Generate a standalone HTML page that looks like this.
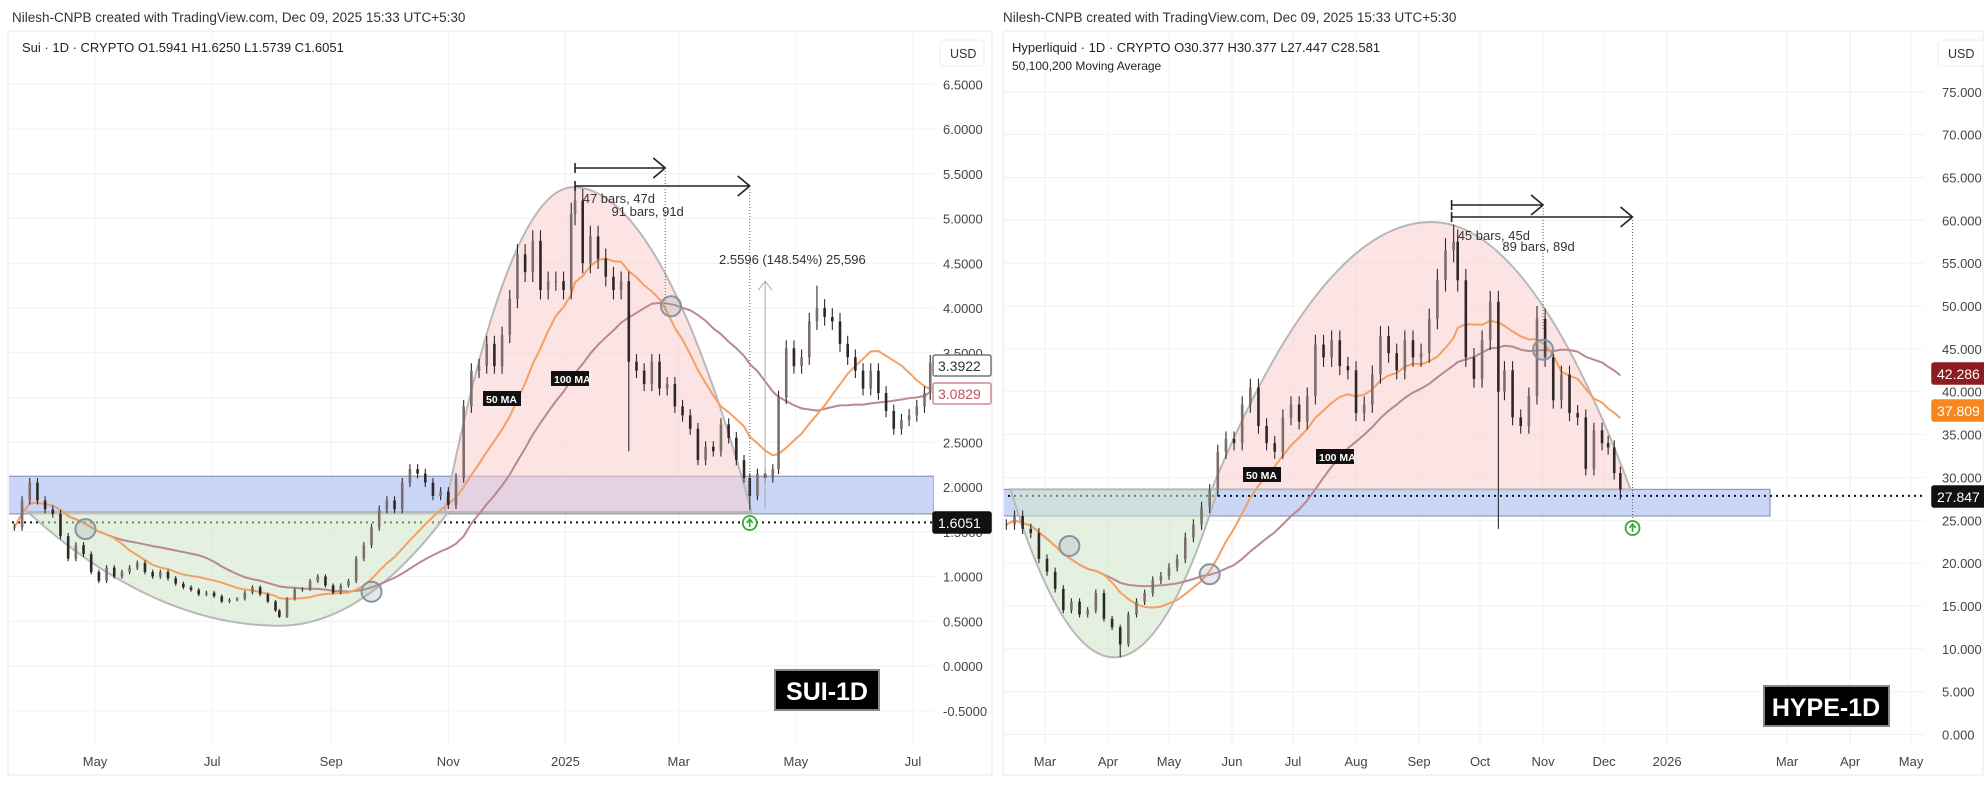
<!DOCTYPE html>
<html><head><meta charset="utf-8">
<style>
html,body{margin:0;padding:0;background:#fff;}
svg{display:block;font-family:"Liberation Sans",sans-serif;}
</style></head>
<body>
<svg id="chart" width="1984" height="800" viewBox="0 0 1984 800" xmlns="http://www.w3.org/2000/svg">
<rect x="0" y="0" width="1984" height="800" fill="#ffffff"/>
<text x="12" y="22" font-size="13.5" fill="#333">Nilesh-CNPB created with TradingView.com, Dec 09, 2025 15:33 UTC+5:30</text>
<text x="1003" y="22" font-size="13.5" fill="#333">Nilesh-CNPB created with TradingView.com, Dec 09, 2025 15:33 UTC+5:30</text>
<rect x="8" y="31" width="984" height="744" fill="none" stroke="#e8e8e8"/>
<rect x="1003" y="31" width="980" height="744" fill="none" stroke="#e8e8e8"/>
<defs>
<clipPath id="clipL"><rect x="9" y="32" width="925" height="714"/></clipPath>
<clipPath id="clipR"><rect x="1004" y="32" width="920" height="714"/></clipPath>
</defs>
<g id="gridL"></g>
<g id="gridR"></g>
<g id="plotL" clip-path="url(#clipL)"></g>
<g id="plotR" clip-path="url(#clipR)"></g>
<g id="axes"></g>
<text x="22" y="52" font-size="13" fill="#222">Sui · 1D · CRYPTO  O1.5941  H1.6250  L1.5739  C1.6051</text>
<text x="1012" y="52" font-size="13" fill="#222">Hyperliquid · 1D · CRYPTO  O30.377  H30.377  L27.447  C28.581</text>
<text x="1012" y="70" font-size="12" fill="#222">50,100,200 Moving Average</text>
<rect x="940" y="40" width="44" height="26" rx="4" fill="#fff" stroke="#eee"/>
<text x="950" y="58" font-size="12.5" fill="#333">USD</text>
<rect x="1938" y="40" width="46" height="26" rx="4" fill="#fff" stroke="#eee"/>
<text x="1948" y="58" font-size="12.5" fill="#333">USD</text>
</svg>
<script>
const suiDates=["2024-03-20","2024-03-24","2024-03-28","2024-04-01","2024-04-05","2024-04-09","2024-04-13","2024-04-17","2024-04-21","2024-04-25","2024-04-29","2024-05-03","2024-05-07","2024-05-11","2024-05-15","2024-05-19","2024-05-23","2024-05-27","2024-05-31","2024-06-04","2024-06-08","2024-06-12","2024-06-16","2024-06-20","2024-06-24","2024-06-28","2024-07-02","2024-07-06","2024-07-10","2024-07-14","2024-07-18","2024-07-22","2024-07-26","2024-07-30","2024-08-03","2024-08-05","2024-08-09","2024-08-13","2024-08-17","2024-08-21","2024-08-25","2024-08-29","2024-09-02","2024-09-06","2024-09-10","2024-09-14","2024-09-18","2024-09-22","2024-09-26","2024-09-30","2024-10-04","2024-10-08","2024-10-12","2024-10-16","2024-10-20","2024-10-24","2024-10-28","2024-11-01","2024-11-05","2024-11-09","2024-11-13","2024-11-17","2024-11-21","2024-11-25","2024-11-29","2024-12-03","2024-12-07","2024-12-11","2024-12-15","2024-12-19","2024-12-23","2024-12-27","2024-12-31","2025-01-04","2025-01-06","2025-01-10","2025-01-14","2025-01-18","2025-01-22","2025-01-26","2025-01-30","2025-02-03","2025-02-07","2025-02-11","2025-02-15","2025-02-19","2025-02-23","2025-02-27","2025-03-03","2025-03-07","2025-03-11","2025-03-15","2025-03-19","2025-03-23","2025-03-27","2025-03-31","2025-04-04","2025-04-07","2025-04-11","2025-04-15","2025-04-19","2025-04-22","2025-04-26","2025-04-30","2025-05-04","2025-05-08","2025-05-12","2025-05-16","2025-05-20","2025-05-24","2025-05-28","2025-06-01","2025-06-05","2025-06-09","2025-06-13","2025-06-17","2025-06-21","2025-06-25","2025-06-29","2025-07-03","2025-07-07","2025-07-10"];
const suiClose=[1.55,1.85,2.05,1.85,1.75,1.70,1.45,1.20,1.35,1.25,1.05,0.95,1.10,1.00,1.05,1.10,1.15,1.05,1.00,1.05,0.98,0.92,0.88,0.85,0.80,0.82,0.78,0.72,0.74,0.75,0.82,0.88,0.80,0.72,0.62,0.55,0.75,0.85,0.86,0.95,1.00,0.90,0.82,0.90,0.95,1.20,1.35,1.55,1.75,1.85,1.75,2.05,2.20,2.15,2.05,1.90,1.95,1.80,2.10,2.90,3.30,3.35,3.60,3.35,3.70,4.10,4.60,4.40,4.75,4.20,4.30,4.30,4.20,5.05,5.20,4.50,4.80,4.55,4.35,4.20,4.30,3.40,3.30,3.15,3.40,3.10,3.15,2.90,2.80,2.65,2.30,2.45,2.40,2.70,2.55,2.30,2.10,1.90,2.15,2.10,2.20,3.00,3.55,3.35,3.45,3.85,4.00,3.90,3.85,3.60,3.45,3.30,3.10,3.30,3.05,2.85,2.65,2.75,2.80,2.90,3.05,3.39];
const suiWickDates=["2025-01-06","2025-02-03","2025-04-07","2025-05-12"];
const suiWickValues=[5.35,2.40,1.75,4.25];
const suiTicks=[-0.5,0,0.5,1,1.5,2,2.5,3,3.5,4,4.5,5,5.5,6,6.5];
const suiMonths=["2024-05-01","2024-07-01","2024-09-01","2024-11-01","2025-01-01","2025-03-01","2025-05-01","2025-07-01"];
const suiMonthLabels=["May","Jul","Sep","Nov","2025","Mar","May","Jul"];

const hypeDates=["2025-02-10","2025-02-14","2025-02-18","2025-02-22","2025-02-26","2025-03-02","2025-03-06","2025-03-10","2025-03-14","2025-03-18","2025-03-22","2025-03-26","2025-03-30","2025-04-03","2025-04-07","2025-04-11","2025-04-15","2025-04-19","2025-04-23","2025-04-27","2025-05-01","2025-05-05","2025-05-09","2025-05-13","2025-05-17","2025-05-21","2025-05-25","2025-05-29","2025-06-02","2025-06-06","2025-06-10","2025-06-14","2025-06-18","2025-06-22","2025-06-26","2025-06-30","2025-07-04","2025-07-08","2025-07-12","2025-07-16","2025-07-20","2025-07-24","2025-07-28","2025-08-01","2025-08-05","2025-08-09","2025-08-13","2025-08-17","2025-08-21","2025-08-25","2025-08-29","2025-09-02","2025-09-06","2025-09-10","2025-09-14","2025-09-18","2025-09-20","2025-09-24","2025-09-28","2025-10-02","2025-10-06","2025-10-10","2025-10-13","2025-10-17","2025-10-21","2025-10-25","2025-10-29","2025-11-02","2025-11-06","2025-11-10","2025-11-14","2025-11-18","2025-11-22","2025-11-26","2025-11-30","2025-12-03","2025-12-06","2025-12-09"];
const hypeClose=[24.5,25.5,24.0,23.5,20.5,19.0,17.0,14.5,15.5,14.0,14.5,16.5,13.5,12.5,10.5,14.0,15.5,16.5,18.0,18.5,19.5,20.5,23.0,24.5,26.5,28.5,33.0,34.5,34.0,38.5,40.5,36.0,34.0,33.0,37.0,38.5,36.5,39.5,45.5,44.0,46.0,43.0,42.5,37.5,38.5,42.0,46.5,44.5,42.5,46.0,44.0,44.5,48.5,53.0,56.5,57.5,53.0,44.0,41.5,46.0,50.5,40.0,42.5,37.0,36.0,39.5,48.5,44.0,39.0,42.0,37.5,37.0,31.0,35.5,34.0,33.5,30.5,28.58];
const hypeWickDates=["2025-04-07","2025-09-18","2025-10-10","2025-10-29","2025-12-09"];
const hypeWickValues=[9.0,59.5,24.0,50.0,27.4];
const hypeTicks=[0,5,10,15,20,25,30,35,40,45,50,55,60,65,70,75];
const hypeMonths=["2025-03-01","2025-04-01","2025-05-01","2025-06-01","2025-07-01","2025-08-01","2025-09-01","2025-10-01","2025-11-01","2025-12-01","2026-01-01","2026-03-01","2026-04-01","2026-05-01"];
const hypeMonthLabels=["Mar","Apr","May","Jun","Jul","Aug","Sep","Oct","Nov","Dec","2026","Mar","Apr","May"];

const NS="http://www.w3.org/2000/svg";
const DAY=86400000;
function dnum(s){return Date.parse(s+"T00:00:00Z")/DAY;}
const L0=dnum("2024-03-20"), R0=dnum("2025-03-01");
function xL(s){return 14.4+(dnum(s)-L0)*1.92;}
function yL(p){return 666-p*89.5;}
function xR(s){return 1045+(dnum(s)-R0)*2.033;}
function yR(p){return 734.5-p*8.57;}
function mk(parent,tag,attrs){const e=document.createElementNS(NS,tag);for(const k in attrs)e.setAttribute(k,attrs[k]);parent.appendChild(e);return e;}

function sma(dates,close,n){
  const out=[];
  for(let i=0;i<dates.length;i++){
    const d=dnum(dates[i]);let s=0,c=0;
    for(let j=i;j>=0&&dnum(dates[j])>d-n;j--){s+=close[j];c++;}
    out.push(s/c);
  }
  return out;
}

const axes=document.getElementById('axes');
function grid(g,ticks,yf,months,xf,x0,x1){
  ticks.forEach(t=>{const l=mk(g,'line',{x1:x0,x2:x1,y1:yf(t),y2:yf(t),stroke:'#f1f1f1'});
    
    });
  months.forEach(m=>{const l=mk(g,'line',{x1:xf(m),x2:xf(m),y1:32,y2:746,stroke:'#f1f1f1'});
    
    });
}
grid(document.getElementById('gridL'),suiTicks,yL,suiMonths,xL,9,934);
grid(document.getElementById('gridR'),hypeTicks,yR,hypeMonths,xR,1004,1924);

function axisLabels(ticks,yf,fmt,x,months,xf,mlabels){
  ticks.forEach(t=>{const tx=mk(axes,'text',{x:x,y:yf(t)+5,'font-size':13,fill:'#444'});tx.textContent=fmt(t);
    
    });
  months.forEach((m,i)=>{const tx=mk(axes,'text',{x:xf(m),y:766,'font-size':13,fill:'#444','text-anchor':'middle'});tx.textContent=mlabels[i];
    
    });
}
axisLabels(suiTicks,yL,t=>t.toFixed(4),943,suiMonths,xL,suiMonthLabels);
axisLabels(hypeTicks,yR,t=>t.toFixed(3),1942,hypeMonths,xR,hypeMonthLabels);

function arch(g,pts,fill,name){
  const [a,b,c]=pts;
  let d=`M${a[0]},${a[1]}`;
  for(let i=1;i<=60;i++){const t=i/60;
    const x=a[0]+(c[0]-a[0])*t;
    const L=(x-b[0]);const k=( (a[1]-b[1])/Math.pow(a[0]-b[0],2)*(x<b[0]?1:0) + (c[1]-b[1])/Math.pow(c[0]-b[0],2)*(x>=b[0]?1:0));
    d+=` L${x},${b[1]+k*L*L}`;}
  const p=mk(g,'path',{d:d+' Z',fill:fill,stroke:'#b8b8b8','stroke-width':2});
  
  
}

function drawPanel(g,band,lastPrice,yf,x1){
  const br=mk(g,'rect',{x:0,y:yf(band[0]),width:x1,height:yf(band[1])-yf(band[0]),fill:'#c9d6f8',stroke:'#8e98b0','stroke-width':1.2});
  
  
  const dl=mk(g,'line',{x1:0,x2:1984,y1:yf(lastPrice),y2:yf(lastPrice),stroke:'#111','stroke-width':2,'stroke-dasharray':'2 4'});
  
  
}

function drawBars(g,dates,close,wd,wv,xf,yf){
  for(let i=0;i<dates.length;i++){
    const o=i?close[i-1]:close[i],c=close[i];
    let hi=Math.max(o,c)*1.025,lo=Math.min(o,c)*0.975;
    const wi=wd.indexOf(dates[i]);
    if(wi>=0){if(wv[wi]>hi)hi=wv[wi];if(wv[wi]<lo)lo=wv[wi];}
    const x=xf(dates[i]);
    const w=mk(g,'line',{x1:x,x2:x,y1:yf(hi),y2:yf(lo),stroke:'#2e2828','stroke-width':1.1});
    
    
    const top=yf(Math.max(o,c)),h=Math.max(1,yf(Math.min(o,c))-top);
    const r=mk(g,'rect',{x:x-1.3,y:top,width:2.6,height:h,fill:c>=o?'#7d6e6e':'#2e2828'});
    
    
  }
}
function drawMA(g,dates,vals,xf,yf,color,name){
  const p=mk(g,'path',{d:dates.map((d,i)=>(i?'L':'M')+xf(d)+','+yf(vals[i])).join(' '),fill:'none',stroke:color,'stroke-width':2});
  
  
}
function ring(g,x,y,color,name){
  const c=mk(g,'circle',{cx:x,cy:y,r:10,fill:'rgba(150,160,175,0.25)',stroke:color,'stroke-width':2});
  
  
}
function upMark(g,x,y){
  const c=mk(g,'circle',{cx:x,cy:y,r:7,fill:'#fff',stroke:'#3a3','stroke-width':1.8});
  
  
  mk(g,'path',{d:`M${x},${y+4} L${x},${y-3} M${x-3},${y} L${x},${y-4} L${x+3},${y}`,stroke:'#3a3','stroke-width':1.6,fill:'none'});
}
function arrow(g,x0,x1,y,name){
  const p=mk(g,'path',{d:`M${x0},${y-5} L${x0},${y+5} M${x0},${y} L${x1},${y} M${x1-12},${y-10} L${x1},${y} L${x1-12},${y+10}`,stroke:'#222','stroke-width':1.6,fill:'none'});
  
  
}
function vdot(g,x,y0,y1){mk(g,'line',{x1:x,x2:x,y1:y0,y2:y1,stroke:'#666','stroke-width':1,'stroke-dasharray':'1 2'});}
function txt(g,x,y,s,size,fill,name,extra){
  const t=mk(g,'text',Object.assign({x:x,y:y,'font-size':size,fill:fill},extra||{}));t.textContent=s;
  
  
  return t;
}
function tagLabel(g,x,y,s,bg,fg,name){
  const r=mk(g,'rect',{x:x,y:y-6,width:38,height:15,fill:bg});
  
  
  txt(g,x+3,y+6,s,10.5,fg,name+'-text',{'font-weight':'bold'});
}
function priceTag(x,y,s,bg,fg,stroke,name){
  const r=mk(axes,'rect',{x:x,y:y-10,width:58,height:21,rx:2,fill:bg,stroke:stroke,'stroke-width':1.5});
  
  
  txt(axes,x+5,y+6,s,14,fg,name+'-text');
}

// ---- SUI
const gL=document.getElementById('plotL');
drawPanel(gL,[2.12,1.70],1.6051,yL,934);
arch(gL,[[xL("2024-03-27"),yL(1.72)],[xL("2024-08-05"),yL(0.45)],[xL("2024-11-01"),yL(1.72)]],'rgba(205,230,200,0.55)','cup-arc-sui');
arch(gL,[[xL("2024-10-30"),yL(1.72)],[xL("2025-01-05"),yL(5.35)],[xL("2025-04-08"),yL(1.72)]],'rgba(250,205,205,0.55)','dome-arc-sui');
const sui50=sma(suiDates,suiClose,50),sui100=sma(suiDates,suiClose,100);
drawMA(gL,suiDates,sui100,xL,yL,'#b98890','ma100-sui');
drawMA(gL,suiDates,sui50,xL,yL,'#f4a062','ma50-sui');
drawBars(gL,suiDates,suiClose,suiWickDates,suiWickValues,xL,yL);
ring(gL,xL("2024-04-26"),yL(1.53),'#8892a0','cross-circle-1');
ring(gL,xL("2024-09-22"),yL(0.83),'#8892a0','cross-circle-2');
ring(gL,xL("2025-02-25"),yL(4.02),'#8892a0','cross-circle-3');
arrow(gL,xL("2025-01-06"),xL("2025-02-22"),168,'arrow-47-bars');
arrow(gL,xL("2025-01-06"),xL("2025-04-07"),186,'arrow-91-bars');
vdot(gL,xL("2025-02-22"),168,310);vdot(gL,xL("2025-04-07"),186,512);
txt(gL,xL("2025-01-10"),203,'47 bars, 47d',13,'#333','label-47-bars');
txt(gL,xL("2025-01-25"),216,'91 bars, 91d',13,'#333','label-91-bars');
txt(gL,xL("2025-03-22"),264,'2.5596 (148.54%) 25,596',13,'#333','measure-label');
const ga=mk(gL,'path',{d:`M${xL("2025-04-15")},${yL(1.75)} L${xL("2025-04-15")},${yL(4.3)} M${xL("2025-04-15")-7},${yL(4.3)+9} L${xL("2025-04-15")},${yL(4.3)} L${xL("2025-04-15")+7},${yL(4.3)+9}`,stroke:'#aaa','stroke-width':1,fill:'none'});


upMark(gL,xL("2025-04-07"),523);
tagLabel(gL,483,397,'50 MA','#111','#fff','label-50ma-sui');
tagLabel(gL,551,377,'100 MA','#111','#fff','label-100ma-sui');
priceTag(933,365,'3.3922','#fff','#333','#777','tag-sui-close-ma');
priceTag(933,393,'3.0829','#fff','#c05060','#d08890','tag-sui-ma100');
priceTag(933,522,'1.6051','#111','#fff','#111','tag-sui-last');
const bxL=mk(axes,'rect',{x:775,y:670,width:104,height:40,fill:'#000',stroke:'#888','stroke-width':2});


txt(axes,827,700,'SUI-1D',25,'#fff','sui-title',{'font-weight':'bold','text-anchor':'middle'});

// ---- HYPE
const gR=document.getElementById('plotR');
drawPanel(gR,[28.6,25.5],27.847,yR,1770);
arch(gR,[[xR("2025-02-12"),yR(28.6)],[xR("2025-04-04"),yR(9.0)],[xR("2025-05-25"),yR(28.6)]],'rgba(205,230,200,0.55)','cup-arc-hype');
arch(gR,[[xR("2025-05-22"),yR(28.6)],[xR("2025-09-07"),yR(59.8)],[xR("2025-12-14"),yR(28.6)]],'rgba(250,205,205,0.55)','dome-arc-hype');
const hype50=sma(hypeDates,hypeClose,50),hype100=sma(hypeDates,hypeClose,100);
drawMA(gR,hypeDates,hype100,xR,yR,'#b98890','ma100-hype');
drawMA(gR,hypeDates,hype50,xR,yR,'#f4a062','ma50-hype');
drawBars(gR,hypeDates,hypeClose,hypeWickDates,hypeWickValues,xR,yR);
ring(gR,xR("2025-03-13"),yR(22.0),'#8892a0','cross-circle-4');
ring(gR,xR("2025-05-21"),yR(18.7),'#8892a0','cross-circle-5');
ring(gR,xR("2025-11-01"),yR(44.9),'#8892a0','cross-circle-6');
arrow(gR,xR("2025-09-17"),xR("2025-11-01"),205,'arrow-45-bars');
arrow(gR,xR("2025-09-17"),xR("2025-12-15"),217,'arrow-89-bars');
vdot(gR,xR("2025-11-01"),205,330);vdot(gR,xR("2025-12-15"),217,520);
txt(gR,xR("2025-09-20"),240,'45 bars, 45d',13,'#333','label-45-bars');
txt(gR,xR("2025-10-12"),251,'89 bars, 89d',13,'#333','label-89-bars');
upMark(gR,xR("2025-12-15"),528);
tagLabel(gR,1243,473,'50 MA','#111','#fff','label-50ma-hype');
tagLabel(gR,1316,455,'100 MA','#111','#fff','label-100ma-hype');
priceTag(1932,373,'42.286','#8b1c22','#fff','#8b1c22','tag-hype-ma100');
priceTag(1932,410,'37.809','#f7861f','#fff','#f7861f','tag-hype-ma50');
priceTag(1932,496,'27.847','#111','#fff','#111','tag-hype-last');
const bxR=mk(axes,'rect',{x:1764,y:686,width:125,height:40,fill:'#000',stroke:'#888','stroke-width':2});


txt(axes,1826,716,'HYPE-1D',25,'#fff','hype-title',{'font-weight':'bold','text-anchor':'middle'});
</script>
</body></html>
